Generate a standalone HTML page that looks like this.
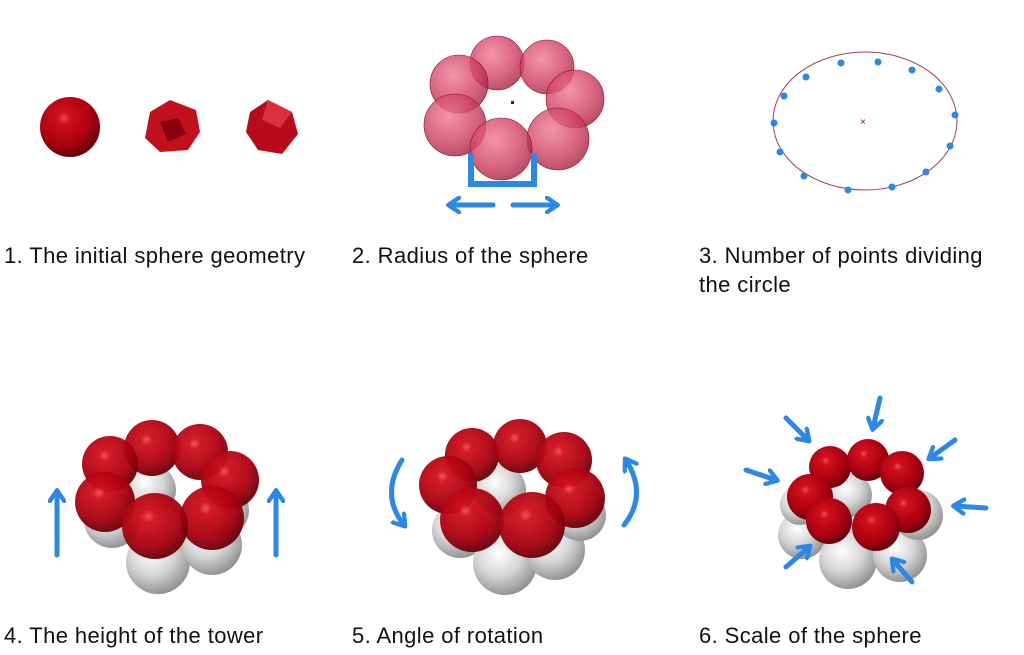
<!DOCTYPE html>
<html><head><meta charset="utf-8"><style>
html,body{margin:0;padding:0;background:#fff;}
svg{display:block;}
text{font-family:"Liberation Sans",sans-serif;font-size:22px;letter-spacing:0.4px;fill:#111;}
</style></head><body>
<svg width="1024" height="655" viewBox="0 0 1024 655" xmlns="http://www.w3.org/2000/svg">
<defs>
<radialGradient id="red" cx="0.4" cy="0.35" r="0.65">
<stop offset="0" stop-color="#f04a55"/><stop offset="0.15" stop-color="#d0101c"/><stop offset="0.7" stop-color="#a80010"/><stop offset="1" stop-color="#6a0008"/></radialGradient>
<radialGradient id="grey" cx="0.4" cy="0.35" r="0.7">
<stop offset="0" stop-color="#ffffff"/><stop offset="0.5" stop-color="#d6d6d6"/><stop offset="1" stop-color="#8a8a8a"/></radialGradient>
<radialGradient id="pink" cx="0.4" cy="0.35" r="0.7">
<stop offset="0" stop-color="#f07a95"/><stop offset="0.6" stop-color="#d04064"/><stop offset="1" stop-color="#a02038"/></radialGradient>
<marker id="ah" viewBox="0 0 10 10" refX="6" refY="5" markerWidth="3.6" markerHeight="3.6" orient="auto"><path d="M1,1 L7,5 L1,9" fill="none" stroke="#2b88e6" stroke-width="2.4" stroke-linecap="round" stroke-linejoin="round"/></marker>
</defs>

<!-- Panel 1 -->
<circle cx="70" cy="127" r="30" fill="url(#red)"/>
<polygon points="150,112 170,100 196,110 200,132 188,150 160,152 145,138" fill="#c0101c"/>
<polygon points="160,122 178,118 186,134 168,142" fill="#8a0010"/>
<polygon points="250,112 268,100 292,112 298,134 282,154 258,150 246,132" fill="#b80a18"/>
<polygon points="268,100 292,112 280,128 262,120" fill="#d8303c"/>

<!-- Panel 2 -->
<g fill="url(#pink)" fill-opacity="0.8" stroke="#8a1020" stroke-width="0.6">
<circle cx="497" cy="63" r="27"/><circle cx="547" cy="67" r="27"/><circle cx="459" cy="84" r="29"/>
<circle cx="575" cy="99" r="29"/><circle cx="455" cy="125" r="31"/><circle cx="558" cy="139" r="31"/>
<circle cx="501" cy="149" r="31"/>
</g>
<rect x="511" y="101" width="3" height="3" fill="#800"/>
<path d="M471,153 V184 H534 V153" fill="none" stroke="#2b88e6" stroke-width="6"/>
<line x1="493" y1="205" x2="450" y2="205" stroke="#2b88e6" stroke-width="5" marker-end="url(#ah)" stroke-linecap="round"/>
<line x1="513" y1="205" x2="556" y2="205" stroke="#2b88e6" stroke-width="5" marker-end="url(#ah)" stroke-linecap="round"/>

<!-- Panel 3 -->
<ellipse cx="865" cy="121" rx="92" ry="69" fill="none" stroke="#a04060" stroke-width="1"/>
<text x="860" y="125" style="font-size:10px;fill:#a00">×</text>
<g fill="#2b88e6">
<circle cx="841" cy="63" r="3.5"/><circle cx="878" cy="62" r="3.5"/><circle cx="912" cy="70" r="3.5"/><circle cx="939" cy="89" r="3.5"/>
<circle cx="955" cy="115" r="3.5"/><circle cx="950" cy="146" r="3.5"/><circle cx="926" cy="172" r="3.5"/><circle cx="892" cy="187" r="3.5"/>
<circle cx="848" cy="190" r="3.5"/><circle cx="804" cy="176" r="3.5"/><circle cx="780" cy="152" r="3.5"/><circle cx="774" cy="123" r="3.5"/>
<circle cx="784" cy="96" r="3.5"/><circle cx="806" cy="77" r="3.5"/>
</g>

<!-- Panel 4 -->
<g fill="url(#grey)">
<circle cx="112" cy="520" r="28"/><circle cx="158" cy="562" r="32"/><circle cx="212" cy="545" r="30"/>
<circle cx="222" cy="510" r="27"/><circle cx="150" cy="490" r="26"/>
</g>
<g fill="url(#red)" fill-opacity="0.95">
<circle cx="152" cy="448" r="28"/><circle cx="110" cy="464" r="28"/><circle cx="200" cy="452" r="28"/>
<circle cx="230" cy="480" r="29"/><circle cx="105" cy="502" r="30"/><circle cx="212" cy="518" r="32"/><circle cx="155" cy="526" r="33"/>
</g>
<line x1="57" y1="555" x2="57" y2="492" stroke="#2b88e6" stroke-width="5" marker-end="url(#ah)" stroke-linecap="round"/>
<line x1="276" y1="555" x2="276" y2="492" stroke="#2b88e6" stroke-width="5" marker-end="url(#ah)" stroke-linecap="round"/>

<!-- Panel 5 -->
<g fill="url(#grey)">
<circle cx="460" cy="530" r="28"/><circle cx="505" cy="563" r="32"/><circle cx="555" cy="550" r="30"/>
<circle cx="580" cy="515" r="26"/><circle cx="500" cy="490" r="26"/>
</g>
<g fill="url(#red)" fill-opacity="0.95">
<circle cx="472" cy="455" r="27"/><circle cx="520" cy="446" r="27"/><circle cx="564" cy="460" r="28"/>
<circle cx="448" cy="485" r="29"/><circle cx="575" cy="498" r="30"/><circle cx="472" cy="520" r="32"/><circle cx="532" cy="525" r="33"/>
</g>
<path d="M402,460 Q380,495 404,525" fill="none" stroke="#2b88e6" stroke-width="5" marker-end="url(#ah)" stroke-linecap="round"/>
<path d="M624,525 Q648,495 626,460" fill="none" stroke="#2b88e6" stroke-width="5" marker-end="url(#ah)" stroke-linecap="round"/>

<!-- Panel 6 -->
<g fill="url(#grey)">
<circle cx="802" cy="535" r="24"/><circle cx="848" cy="560" r="29"/><circle cx="900" cy="555" r="27"/>
<circle cx="918" cy="515" r="25"/><circle cx="850" cy="495" r="22"/><circle cx="800" cy="505" r="20"/>
</g>
<g fill="url(#red)">
<circle cx="830" cy="467" r="21"/><circle cx="868" cy="460" r="21"/><circle cx="902" cy="473" r="22"/>
<circle cx="810" cy="497" r="23"/><circle cx="908" cy="510" r="23"/><circle cx="829" cy="521" r="23"/><circle cx="876" cy="527" r="24"/>
</g>
<g stroke="#2b88e6" stroke-width="5" stroke-linecap="round" marker-end="url(#ah)">
<line x1="786" y1="418" x2="808" y2="440"/>
<line x1="880" y1="398" x2="873" y2="428"/>
<line x1="955" y1="440" x2="930" y2="458"/>
<line x1="746" y1="470" x2="776" y2="480"/>
<line x1="986" y1="508" x2="955" y2="506"/>
<line x1="786" y1="567" x2="809" y2="547"/>
<line x1="912" y1="582" x2="893" y2="560"/>
</g>

<text x="4" y="263">1. The initial sphere geometry</text>
<text x="352" y="263">2. Radius of the sphere</text>
<text x="699" y="263">3. Number of points dividing</text>
<text x="699" y="292">the circle</text>
<text x="4" y="643">4. The height of the tower</text>
<text x="352" y="643">5. Angle of rotation</text>
<text x="699" y="643">6. Scale of the sphere</text>
</svg>
</body></html>
